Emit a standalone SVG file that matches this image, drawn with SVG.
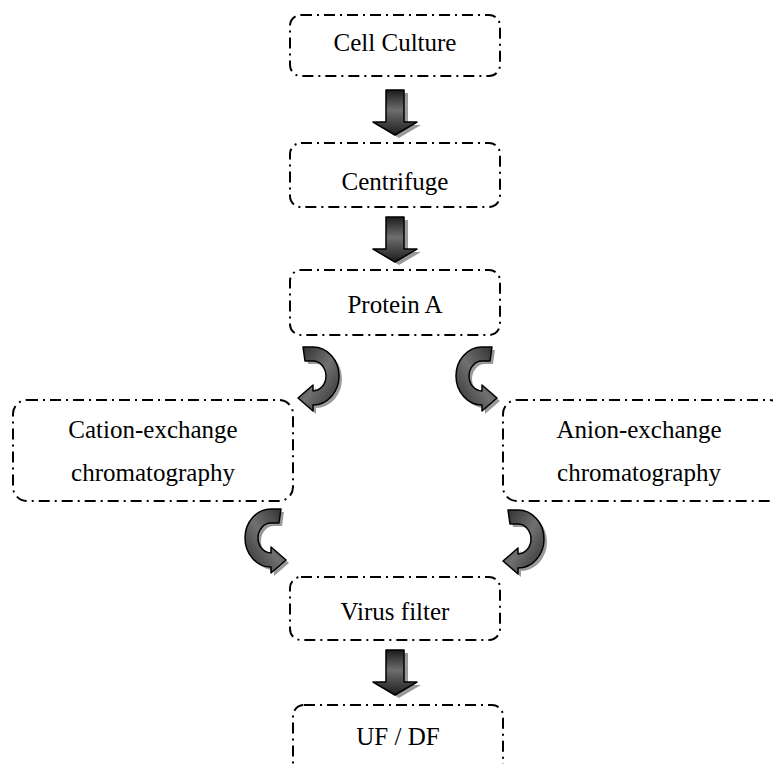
<svg xmlns="http://www.w3.org/2000/svg" width="773" height="764" viewBox="0 0 773 764">
<style>
.box{fill:#fff;stroke:#000;stroke-width:2;stroke-dasharray:11 5 2 5}
.lbl{font-family:"Liberation Serif","Times New Roman",serif;font-size:25px;fill:#000;text-anchor:middle}
.arr{fill:url(#g);stroke:#000;stroke-width:1.5;stroke-linejoin:round}
.sh{fill:#9a9a9a;stroke:none}
.carr{fill:url(#gc);stroke:#000;stroke-width:1.5;stroke-linejoin:round}
</style>
<defs>
<linearGradient id="g" x1="0" y1="0" x2="0" y2="1">
<stop offset="0" stop-color="#1c1c1c"/>
<stop offset="0.45" stop-color="#6e6e6e"/>
<stop offset="1" stop-color="#1c1c1c"/>
</linearGradient>
<linearGradient id="gc" x1="0" y1="0" x2="1" y2="1">
<stop offset="0" stop-color="#2a2a2a"/>
<stop offset="0.5" stop-color="#707070"/>
<stop offset="1" stop-color="#2a2a2a"/>
</linearGradient>
<path id="down" d="M -9,0 H 9 V 32 H 22 L 0,45 L -22,32 H -9 Z"/>
<path id="curve" d="M -10,-29 L 0,-29 A 26 29 0 0 1 0,29 L 0,35 L -15,22 L 0,9 L 0,15 A 13 15 0 0 0 0,-15 L -8,-15 Z"/>
</defs>

<g id="connectors">
<g transform="translate(395,90)"><use href="#down" class="sh" x="4" y="3"/><use href="#down" class="arr"/></g>
<g transform="translate(395,217)"><use href="#down" class="sh" x="4" y="3"/><use href="#down" class="arr"/></g>
<g transform="translate(395,650)"><use href="#down" class="sh" x="4" y="3"/><use href="#down" class="arr"/></g>
<g transform="translate(313,376)"><use href="#curve" class="sh" x="3" y="3"/><use href="#curve" class="carr"/></g>
<g transform="translate(482,376) scale(-1,1)"><use href="#curve" class="sh" x="-3" y="3"/><use href="#curve" class="carr"/></g>
<g transform="translate(271,538) scale(-1,1)"><use href="#curve" class="sh" x="-3" y="3"/><use href="#curve" class="carr"/></g>
<g transform="translate(518,539)"><use href="#curve" class="sh" x="3" y="3"/><use href="#curve" class="carr"/></g>
</g>

<g id="cell-culture"><rect class="box" x="290" y="15" width="210" height="61" rx="11"/><text class="lbl" x="395" y="51">Cell Culture</text></g>
<g id="centrifuge"><rect class="box" x="290" y="143" width="210" height="64" rx="11"/><text class="lbl" x="395" y="190">Centrifuge</text></g>
<g id="protein-a"><rect class="box" x="290" y="270" width="210" height="65" rx="11"/><text class="lbl" x="395" y="313">Protein A</text></g>
<g id="cation"><rect class="box" x="13" y="400" width="280" height="101" rx="14"/><text class="lbl" x="153" y="438">Cation-exchange</text><text class="lbl" x="153" y="481">chromatography</text></g>
<g id="anion"><rect class="box" x="503" y="400" width="280" height="101" rx="14"/><text class="lbl" x="639" y="438">Anion-exchange</text><text class="lbl" x="639" y="481">chromatography</text></g>
<g id="virus-filter"><rect class="box" x="290" y="577" width="210" height="63" rx="11"/><text class="lbl" x="395" y="620">Virus filter</text></g>
<g id="uf-df"><rect class="box" x="293" y="705" width="210" height="70" rx="11"/><text class="lbl" x="398" y="745">UF / DF</text></g>
</svg>
